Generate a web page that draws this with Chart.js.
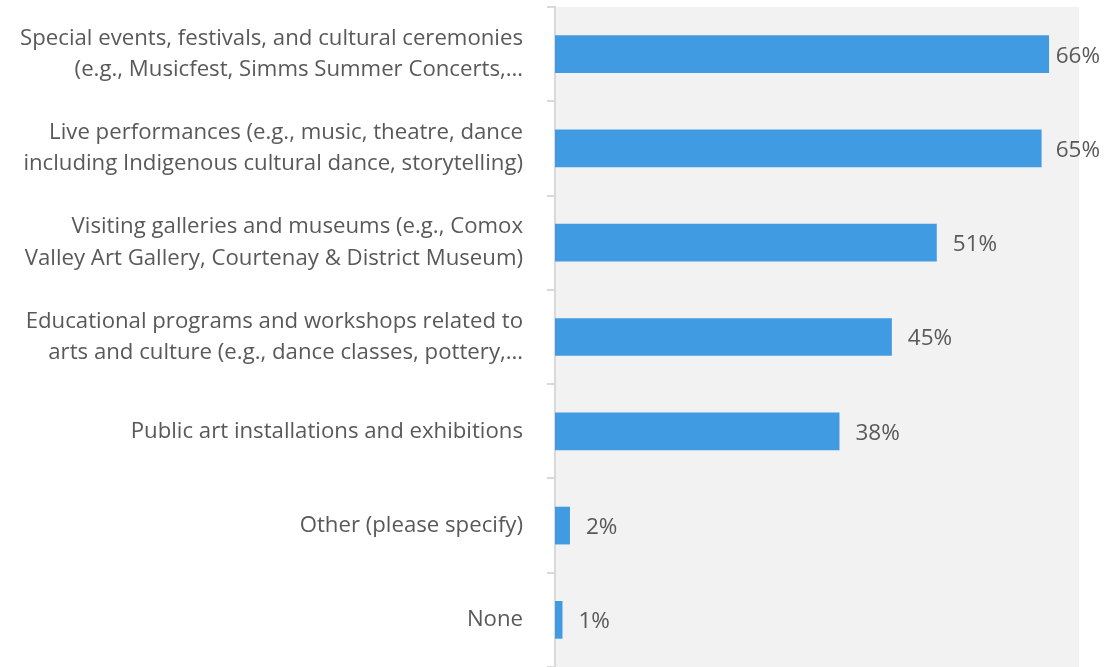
<!DOCTYPE html>
<html>
<head>
<meta charset="utf-8">
<script src="https://cdn.jsdelivr.net/npm/chart.js@4"></script>
<style>
  html, body { margin: 0; padding: 0; background: #fff; }
  #wrap { width: 1105px; height: 667px; }
</style>
</head>
<body>
<div id="wrap"><canvas id="chart"></canvas></div>
<script>
const categories = [
    ['Special events, festivals, and cultural ceremonies', '(e.g., Musicfest, Simms Summer Concerts,…'],
    ['Live performances (e.g., music, theatre, dance', 'including Indigenous cultural dance, storytelling)'],
    ['Visiting galleries and museums (e.g., Comox', 'Valley Art Gallery, Courtenay & District Museum)'],
    ['Educational programs and workshops related to', 'arts and culture (e.g., dance classes, pottery,…'],
    'Public art installations and exhibitions',
    'Other (please specify)',
    'None'
];
const percents = [66, 65, 51, 45, 38, 2, 1];

const FONT = '"Open Sans", "Noto Sans", sans-serif';
const TEXT = '#595959';

// grey panel behind the bars
const panelBg = {
    id: 'panelBg',
    beforeDraw(chart) {
        const { ctx, chartArea: a } = chart;
        ctx.save();
        ctx.fillStyle = '#f2f2f2';
        ctx.fillRect(a.left, a.top, a.right - a.left, a.bottom - a.top);
        ctx.restore();
    }
};

// percentage written after each bar, kept inside the canvas
const valueLabels = {
    id: 'valueLabels',
    afterDatasetsDraw(chart) {
        const { ctx } = chart;
        const meta = chart.getDatasetMeta(0);
        ctx.save();
        ctx.font = '22.5px ' + FONT;
        ctx.fillStyle = TEXT;
        ctx.textBaseline = 'middle';
        meta.data.forEach((bar, i) => {
            const txt = percents[i] + '%';
            const w = ctx.measureText(txt).width;
            let x = bar.x + 16;
            x = Math.min(x, chart.width - w - 5);
            ctx.fillText(txt, x, bar.y + 2);
        });
        ctx.restore();
    }
};

new Chart(document.getElementById('chart'), {
    type: 'bar',
    data: {
        labels: categories,
        datasets: [{
            data: percents,
            backgroundColor: '#409be2',
            barPercentage: 0.8,
            categoryPercentage: 0.5
        }]
    },
    options: {
        indexAxis: 'y',
        responsive: true,
        maintainAspectRatio: false,
        animation: false,
        layout: { padding: { top: 7, right: 26, bottom: 0, left: 0 } },
        plugins: {
            legend: { display: false },
            tooltip: { enabled: false }
        },
        scales: {
            x: {
                display: false,
                min: 0,
                max: 70
            },
            y: {
                afterFit(scale) {
                    scale.width = 555;
                    scale.paddingTop = 0;
                    scale.paddingBottom = 0;
                },
                border: { color: '#d9d9d9', width: 2 },
                grid: {
                    drawOnChartArea: false,
                    color: '#d9d9d9',
                    lineWidth: 2,
                    tickLength: 8
                },
                ticks: {
                    color: TEXT,
                    padding: 24,
                    font: { family: FONT, size: 22.2, lineHeight: 1.41 }
                }
            }
        }
    },
    plugins: [panelBg, valueLabels]
});
</script>
</body>
</html>
